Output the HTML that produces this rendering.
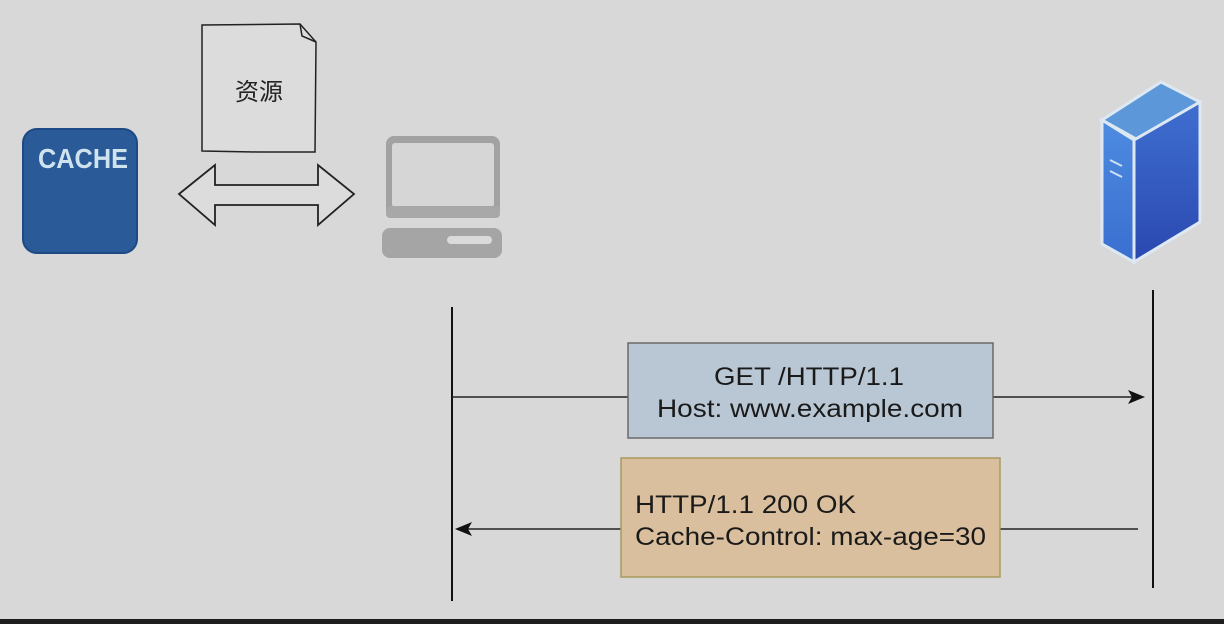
<!DOCTYPE html>
<html><head><meta charset="utf-8"><style>
html,body{margin:0;padding:0;background:#d8d8d8;}
svg{display:block}
text{font-family:"Liberation Sans","Noto Sans CJK SC",sans-serif;}
</style></head><body>
<svg width="1224" height="624" viewBox="0 0 1224 624" xmlns="http://www.w3.org/2000/svg">
<defs>
<linearGradient id="sf" x1="0" y1="0" x2="0" y2="1"><stop offset="0" stop-color="#3f6fd0"/><stop offset="1" stop-color="#2a48b0"/></linearGradient>
<linearGradient id="sl" x1="0" y1="0" x2="0" y2="1"><stop offset="0" stop-color="#4d8be0"/><stop offset="1" stop-color="#3a6fd0"/></linearGradient>
</defs>
<rect width="1224" height="624" fill="#d8d8d8"/>
<rect x="0" y="619" width="1224" height="5" fill="#1e1e1e"/>
<!-- cache -->
<rect x="23" y="129" width="114" height="124" rx="14" fill="#2a5a98" stroke="#1d4a86" stroke-width="2"/>
<text x="83" y="168" font-size="28" fill="#cfe3ee" text-anchor="middle" font-weight="bold" textLength="90" lengthAdjust="spacingAndGlyphs">CACHE</text>
<!-- document -->
<path d="M202 25 L300 24 L316 42 L315 152 L258 152 L202 151 Z" fill="#dcdcdc" stroke="#222" stroke-width="1.5"/>
<path d="M300 24 L302 36 L316 42" fill="none" stroke="#222" stroke-width="1.5"/>
<text x="259" y="100" font-size="24" fill="#222" text-anchor="middle">资源</text>
<!-- double arrow -->
<path d="M179 194 L215 165 L215 185 L318 185 L318 165 L354 194 L318 225 L318 205 L215 205 L215 225 Z" fill="#dcdcdc" stroke="#222" stroke-width="1.8"/>
<!-- computer -->
<rect x="386" y="136" width="114" height="82" rx="8" fill="#a2a2a2"/>
<rect x="392" y="143" width="102" height="64" rx="3" fill="#d6d6d6"/>
<rect x="386" y="206" width="114" height="12" rx="4" fill="#a8a8a8"/>
<rect x="382" y="228" width="120" height="30" rx="8" fill="#a5a5a5"/>
<rect x="447" y="236" width="45" height="8" rx="4" fill="#dadada"/>
<!-- server -->
<polygon points="1102,120 1161,82 1200,102 1138,140" fill="#5c97da" stroke="#dde8f3" stroke-width="3"/>
<polygon points="1102,120 1134,140 1134,262 1102,244" fill="url(#sl)" stroke="#dde8f3" stroke-width="3"/>
<polygon points="1134,140 1200,102 1200,222 1134,262" fill="url(#sf)" stroke="#dde8f3" stroke-width="3"/>
<line x1="1110" y1="160" x2="1122" y2="166" stroke="#cfe0f3" stroke-width="2"/>
<line x1="1110" y1="171" x2="1122" y2="177" stroke="#cfe0f3" stroke-width="2"/>
<!-- lifelines -->
<line x1="452" y1="307" x2="452" y2="601" stroke="#111" stroke-width="2"/>
<line x1="1153" y1="290" x2="1153" y2="588" stroke="#111" stroke-width="2"/>
<!-- arrows -->
<line x1="452" y1="397" x2="1136" y2="397" stroke="#222" stroke-width="1.6"/>
<polygon points="1145,397 1128,390 1132,397 1128,404" fill="#111"/>
<line x1="464" y1="529" x2="1138" y2="529" stroke="#222" stroke-width="1.6"/>
<polygon points="455,529 472,522 468,529 472,536" fill="#111"/>
<!-- boxes -->
<rect x="628" y="343" width="365" height="95" fill="#b9c6d4" stroke="#6a6a6a" stroke-width="1.5"/>
<text x="714" y="385" font-size="25" fill="#1a1a1a" textLength="190" lengthAdjust="spacingAndGlyphs">GET /HTTP/1.1</text>
<text x="657" y="417" font-size="25" fill="#1a1a1a" textLength="306" lengthAdjust="spacingAndGlyphs">Host: www.example.com</text>
<rect x="621" y="458" width="379" height="119" fill="#d9bf9d" stroke="#a89a60" stroke-width="1.5"/>
<text x="635" y="513" font-size="25" fill="#1a1a1a" textLength="221" lengthAdjust="spacingAndGlyphs">HTTP/1.1 200 OK</text>
<text x="635" y="545" font-size="25" fill="#1a1a1a" textLength="351" lengthAdjust="spacingAndGlyphs">Cache-Control: max-age=30</text>
</svg>
</body></html>
